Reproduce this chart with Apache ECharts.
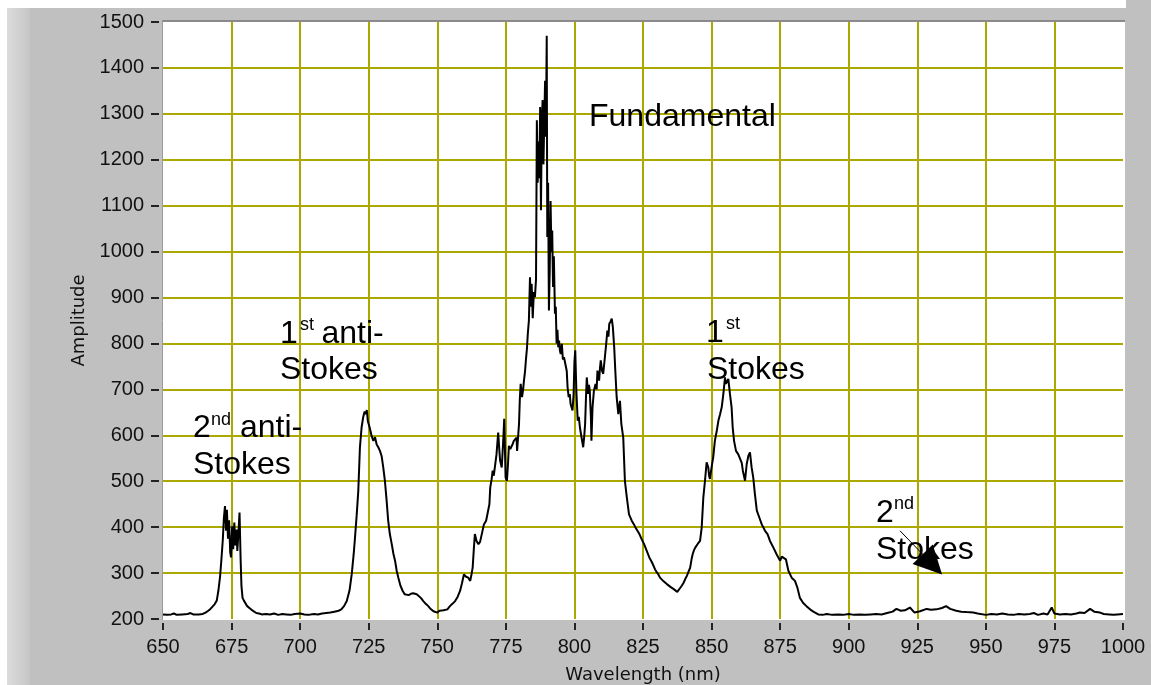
<!DOCTYPE html>
<html>
<head>
<meta charset="utf-8">
<script src="https://cdn.jsdelivr.net/npm/echarts@6/dist/echarts.min.js"></script>
<style>
  html, body { margin: 0; padding: 0; background: #fff; }
  #chart { width: 1151px; height: 685px; }
</style>
</head>
<body>
<div id="chart"></div>
<script>
// wavelength (nm)
const wavelength = [
  650, 651.5, 653, 654, 655, 657, 659, 660, 661, 663, 664.5, 665.5, 666.5, 667.3, 668, 668.8, 669.6,
  670.2, 670.8, 671.3, 671.8, 672.2, 672.6, 673, 673.3, 673.7, 674.1, 674.5, 674.8, 675.2, 675.6, 676,
  676.4, 676.8, 677.1, 677.5, 677.9, 678.3, 678.6, 679, 679.5, 680, 680.7, 681.5, 682.3, 683, 684, 685,
  686, 687.5, 689, 690.5, 692, 693.5, 695, 696.5, 698, 700, 701.5, 703, 705, 706.5, 708, 709.5, 711,
  712.5, 714, 715, 716, 717, 718, 718.8, 719.5, 720, 720.6, 721.2, 721.8, 722.4, 723, 723.5, 723.9,
  724.3, 724.7, 725.3, 726, 726.7, 727.3, 727.9, 728.5, 729.1, 729.7, 730.3, 730.9, 731.5, 732.1, 732.7,
  733.4, 734, 734.6, 735.2, 735.8, 736.6, 737.4, 738.1, 738.8, 739.6, 740.4, 741.2, 741.9, 742.5, 743.2,
  744, 744.9, 745.8, 746.7, 747.4, 748, 748.6, 749.2, 750, 750.8, 751.5, 752.3, 753, 753.7, 754.6, 755.5,
  756.5, 757.4, 758.3, 759, 759.7, 760.5, 761.3, 762, 762.5, 762.9, 763.3, 763.7, 764.3, 765, 765.6,
  766.2, 767, 767.8, 768.4, 769, 769.3, 769.8, 770.2, 770.6, 771, 771.6, 772.2, 772.6, 772.9, 773.5,
  774.1, 774.4, 774.7, 774.9, 775.4, 775.8, 776.1, 776.6, 777, 777.5, 777.9, 778.4, 778.9, 779.1, 779.5,
  779.8, 780.1, 780.4, 780.9, 781.3, 781.6, 782, 782.3, 782.7, 783, 783.4, 783.8, 784.1, 784.4, 784.8,
  785.2, 785.6, 786, 786.3, 786.6, 786.9, 787.2, 787.5, 787.8, 788.1, 788.4, 788.7, 789, 789.3, 789.6,
  789.9, 790.1, 790.4, 790.7, 791, 791.3, 791.6, 791.9, 792.2, 792.5, 792.9, 793.2, 793.5, 793.8, 794.1,
  794.4, 794.7, 795, 795.4, 795.8, 796.2, 796.8, 797.2, 797.5, 797.9, 798.3, 798.6, 799, 799.3, 799.7,
  800, 800.3, 800.7, 801.2, 801.6, 802, 802.6, 803.2, 803.6, 803.9, 804.2, 804.5, 805, 805.3, 805.6,
  806, 806.2, 806.6, 807.1, 807.7, 808.1, 808.4, 809, 809.3, 809.6, 810.1, 810.5, 811.1, 811.6, 812,
  812.4, 812.7, 813.2, 813.6, 814, 814.5, 814.9, 815.4, 816, 816.6, 817.1, 817.8, 818.4, 819.1, 819.9,
  820.9, 821.7, 822.2, 822.7, 823.2, 823.7, 824.5, 825, 825.4, 826.4, 827.3, 828.3, 829.4, 830, 830.6,
  831.2, 831.9, 832.5, 833.1, 833.7, 834.3, 835, 835.6, 836.2, 836.8, 837.5, 838, 838.6, 839.2, 839.8,
  840.4, 841, 841.6, 842.2, 842.7, 843.1, 843.6, 844.1, 845, 845.8, 846.4, 847, 847.6, 848.2, 848.8,
  849.1, 849.4, 850, 850.6, 851.2, 851.9, 852.5, 853.1, 853.7, 854.3, 854.9, 855.2, 855.5, 856.1, 856.7,
  857.3, 857.7, 858.2, 858.9, 859.7, 860.4, 861, 861.4, 862.2, 862.8, 863.4, 864, 864.6, 865.2, 865.8,
  866.5, 867.4, 868.3, 869.5, 870.4, 871.3, 872.5, 873.7, 875, 875.6, 876.2, 877.1, 878, 879.2, 880.4,
  881.3, 882.2, 883.4, 884.6, 885.9, 887.1, 888.9, 890.5, 892, 894, 896, 898, 900, 902, 904, 906, 908,
  910, 912, 914, 916, 917.4, 919, 920.5, 922.3, 924, 926, 928.4, 930, 932, 934, 935.5, 937, 939.2, 941,
  943, 945.4, 947, 950, 952, 954, 956, 958, 960, 962, 964, 966, 967.5, 969, 971, 972.5, 974, 975, 977,
  979, 981, 983, 984.3, 986, 988, 989.5, 991.6, 993, 995, 996.5, 998, 1000
];

// amplitude, one value per wavelength above
const amplitude = [
  210, 209, 210, 212, 209, 210, 211, 213, 210, 210, 211, 214, 218, 222, 226, 232, 240,
  262, 292, 330, 372, 420, 446, 392, 438, 375, 415, 345, 334, 402, 352, 410,
  360, 395, 348, 388, 432, 330, 272, 246, 240, 236, 228, 224, 220, 216, 213, 212,
  210, 211, 210, 212, 209, 211, 210, 209, 211, 212, 210, 209, 211, 210, 212, 213, 214,
  216, 218, 221, 228, 239, 262, 297, 340, 377, 425, 479, 574, 617, 640, 652, 646,
  655, 630, 618, 600, 588, 596, 580, 574, 566, 555, 530, 501, 460, 414, 385,
  363, 342, 327, 305, 290, 272, 261, 254, 250, 252, 255, 256, 257, 254, 252,
  246, 239, 233, 228, 223, 220, 217, 216, 214, 218, 216, 219, 217, 221, 228, 233,
  239, 248, 261, 278, 297, 292, 290, 283, 298, 312, 350, 385, 370, 363, 368,
  370, 406, 414, 432, 450, 486, 504, 523, 512, 508, 559, 606, 570, 545, 530,
  595, 636, 560, 508, 501, 540, 577, 570, 574, 581, 588, 592, 595, 566, 600,
  625, 680, 712, 683, 700, 719, 740, 763, 790, 821, 850, 944, 880, 930, 855,
  912, 901, 940, 1286, 1150, 1240, 1160, 1315, 1090, 1280, 1330, 1190, 1280, 1372, 1250,
  1470, 1032, 1150, 872, 960, 1110, 1000, 1046, 923, 990, 865, 880, 800, 830, 792,
  806, 785, 777, 799, 765, 770, 773, 740, 705, 683, 690, 668, 672, 654, 690,
  760, 785, 697, 632, 640, 617, 595, 574, 600, 625, 680, 726, 690, 710, 697,
  640, 588, 661, 697, 712, 700, 741, 719, 745, 763, 740, 734, 770, 800, 828,
  815, 843, 848, 854, 836, 792, 741, 683, 646, 675, 625, 595, 501, 465, 428,
  414, 406, 400, 396, 390, 385, 374, 368, 363, 348, 334, 323, 308, 302, 297,
  290, 286, 282, 279, 276, 272, 270, 268, 265, 262, 259, 263, 268, 273, 279,
  287, 294, 303, 312, 330, 341, 350, 356, 364, 370, 399, 465, 501, 541, 530,
  512, 505, 530, 552, 588, 610, 632, 646, 661, 690, 726, 712, 708, 723, 690,
  661, 617, 588, 566, 559, 555, 540, 523, 501, 537, 555, 563, 530, 508, 472,
  436, 421, 406, 392, 385, 370, 356, 341, 327, 336, 334, 330, 305, 290, 283,
  268, 246, 235, 228, 221, 216, 210, 209, 211, 209, 210, 209, 211, 209, 210, 209, 210,
  211, 210, 213, 216, 222, 218, 219, 225, 214, 217, 222, 220, 221, 224, 228, 222, 218, 216,
  215, 214, 212, 209, 211, 210, 212, 210, 209, 211, 210, 211, 213, 209, 212, 210, 225, 212, 210,
  211, 210, 212, 214, 213, 222, 216, 214, 211, 210, 209, 210, 211
];

// arrow pointing at the 2nd Stokes region (data coordinates)
const arrowFrom = [918.7, 392];
const arrowTo = [930.5, 319];

const points = wavelength.map((w, i) => [w, amplitude[i]]);

const gridColor = '#aba800';
const tickFont = '"Liberation Sans", Arial, sans-serif';
const noteFont = '"Liberation Sans", Arial, sans-serif';

function note(text, x, y, size) {
  return {
    type: 'text',
    z: 100,
    silent: true,
    style: {
      text: text,
      x: x,
      y: y,
      font: size + 'px ' + noteFont,
      fill: '#000',
      textAlign: 'left',
      textVerticalAlign: 'middle',
    },
  };
}

const myChart = echarts.init(document.getElementById('chart'));

myChart.setOption({
  animation: false,
  backgroundColor: '#fff',
  grid: {
    left: 163,
    right: 28,
    top: 22,
    bottom: 66,
    outerBoundsMode: 'none',
    containLabel: false,
  },
  xAxis: {
    type: 'value',
    min: 650,
    max: 1000,
    interval: 25,
    offset: 4,
    z: 3,
    name: 'Wavelength (nm)',
    nameLocation: 'middle',
    nameGap: 43,
    nameTextStyle: { fontFamily: '"DejaVu Sans", sans-serif', fontSize: 18, color: '#111' },
    axisLine: { show: false },
    axisTick: { show: true, length: 7, lineStyle: { color: '#222', width: 2 } },
    axisLabel: {
      margin: 14,
      fontFamily: tickFont,
      fontSize: 20,
      color: '#111',
      formatter: (v) => String(v),
    },
    splitLine: {
      show: true,
      showMinLine: false,
      showMaxLine: false,
      lineStyle: { color: gridColor, width: 2 },
    },
  },
  yAxis: {
    type: 'value',
    min: 200,
    max: 1500,
    interval: 100,
    offset: 4,
    z: 3,
    name: 'Amplitude',
    nameLocation: 'middle',
    nameRotate: 90,
    nameGap: 54,
    nameTextStyle: { fontFamily: '"DejaVu Sans", sans-serif', fontSize: 18, color: '#111' },
    axisLine: { show: false },
    axisTick: { show: true, length: 8, lineStyle: { color: '#222', width: 2 } },
    axisLabel: {
      margin: 15,
      fontFamily: tickFont,
      fontSize: 20,
      color: '#111',
      formatter: (v) => String(v),
    },
    splitLine: {
      show: true,
      showMinLine: false,
      showMaxLine: false,
      lineStyle: { color: gridColor, width: 2 },
    },
  },
  series: [
    {
      type: 'line',
      data: points,
      z: 5,
      symbol: 'none',
      smooth: false,
      lineStyle: { color: '#000', width: 2 },
      markLine: {
        silent: true,
        animation: false,
        symbol: ['none', 'triangle'],
        symbolSize: 28,
        label: { show: false },
        lineStyle: { color: '#000', width: 1, type: 'solid' },
        emphasis: { disabled: true },
        data: [[{ coord: arrowFrom }, { coord: arrowTo }]],
      },
    },
  ],
  graphic: [
    // gray panel frame
    { type: 'rect', z: -100, silent: true, shape: { x: 7, y: 8, width: 1144, height: 677 }, style: { fill: '#c0c0c0' } },
    { type: 'rect', z: -100, silent: true, shape: { x: 1126, y: 0, width: 25, height: 8 }, style: { fill: '#c0c0c0' } },
    {
      type: 'rect', z: -99, silent: true,
      shape: { x: 7, y: 8, width: 23, height: 677 },
      style: {
        fill: new echarts.graphic.LinearGradient(0, 0, 1, 0, [
          { offset: 0, color: '#dcdcdc' },
          { offset: 1, color: '#c6c6c6' },
        ]),
      },
    },
    // plot area
    { type: 'rect', z: -98, silent: true, shape: { x: 162, y: 21, width: 963, height: 599 }, style: { fill: '#fff' } },
    { type: 'line', z: -97, silent: true, shape: { x1: 162, y1: 21, x2: 1125, y2: 21 }, style: { stroke: '#8a8a8a', lineWidth: 2 } },
    { type: 'line', z: -97, silent: true, shape: { x1: 162.5, y1: 21, x2: 162.5, y2: 620 }, style: { stroke: '#9a9a9a', lineWidth: 1 } },
    // peak labels
    note('2', 193, 427.9, 32),
    note('nd', 211, 420.5, 18),
    note('anti-', 240, 427.9, 32),
    note('Stokes', 193, 464.9, 32),

    note('1', 280, 333.9, 32),
    note('st', 300, 325.5, 18),
    note('anti-', 321.5, 333.9, 32),
    note('Stokes', 280, 369.9, 32),

    note('Fundamental', 589, 116.9, 32),

    note('1', 706, 332.9, 32),
    note('st', 726, 324.5, 18),
    note('Stokes', 707, 370.6, 32),

    note('2', 876, 512.9, 32),
    note('nd', 894, 504.5, 18),
    note('Stokes', 876, 550.6, 32),
  ],
});
</script>
</body>
</html>
